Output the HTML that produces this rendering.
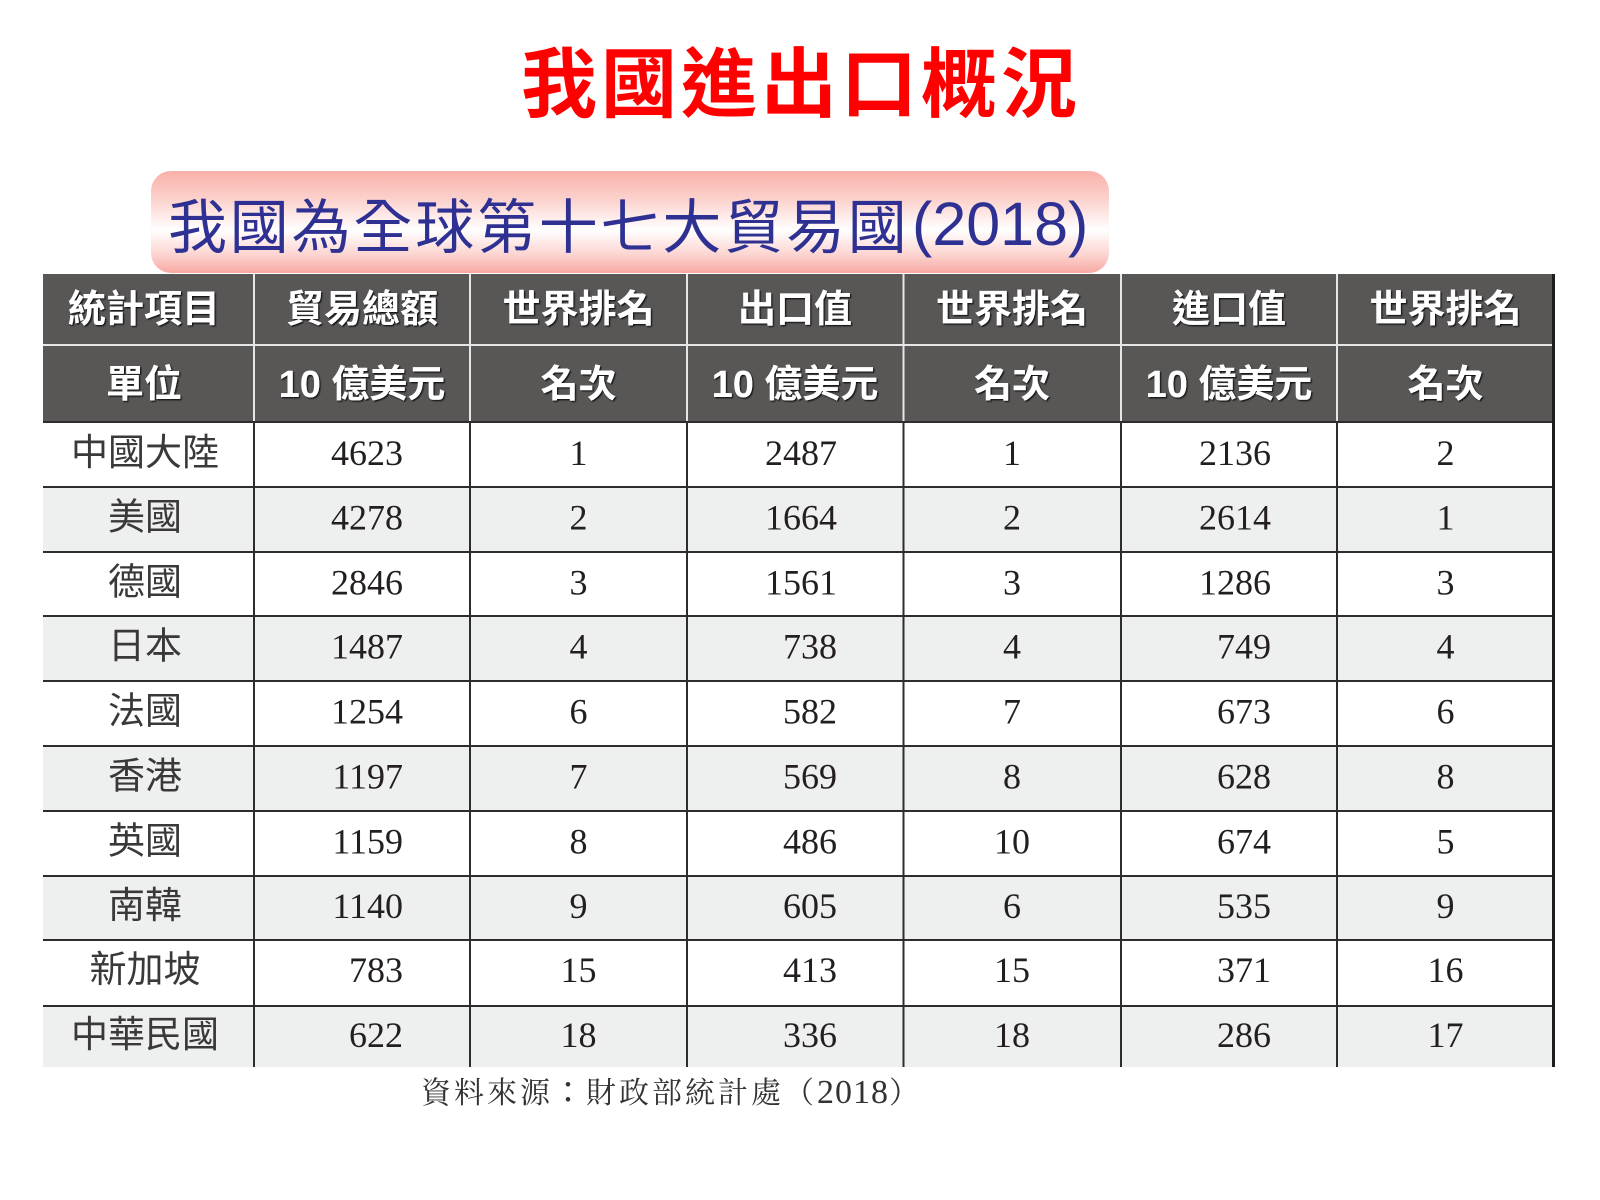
<!DOCTYPE html>
<html>
<head>
<meta charset="utf-8">
<style>
html,body{margin:0;padding:0;background:#fff;}
svg{display:block;}
</style>
</head>
<body>
<svg width="1600" height="1200" viewBox="0 0 1600 1200" xmlns="http://www.w3.org/2000/svg">
<defs>
<linearGradient id="pk" x1="0" y1="0" x2="0" y2="1">
<stop offset="0" stop-color="#f9b0a9"/>
<stop offset="0.28" stop-color="#fcd2cd"/>
<stop offset="0.58" stop-color="#ffffff"/>
<stop offset="0.82" stop-color="#fcd4d0"/>
<stop offset="1" stop-color="#f8a9a4"/>
</linearGradient>
<filter id="sh" x="-5%" y="-20%" width="110%" height="140%">
<feDropShadow dx="1.2" dy="1.2" stdDeviation="0.8" flood-color="#000" flood-opacity="0.85"/>
</filter>
</defs>
<rect width="1600" height="1200" fill="#fff"/>

<!-- Title -->
<text x="801" y="111" text-anchor="middle" font-family="'Liberation Sans','Noto Sans CJK TC',sans-serif" font-weight="bold" font-size="76" letter-spacing="4" fill="#ff0000">我國進出口概況</text>

<!-- Subtitle box -->
<rect x="151" y="171" width="958" height="102" rx="20" ry="20" fill="url(#pk)"/>
<text x="168" y="248" font-family="'Liberation Sans','Noto Sans CJK TC',sans-serif" font-size="59" letter-spacing="2.8" fill="#2e3192">我國為全球第十七大貿易國</text>
<text x="912" y="245" font-family="'Liberation Sans','Noto Sans CJK TC',sans-serif" font-size="61" fill="#2e3192">(2018)</text>

<!-- Header background -->
<rect x="43" y="274" width="1511" height="148" fill="#595656"/>
<!-- header light lines -->
<rect x="43" y="344" width="1511" height="2" fill="#e6e6e6"/>
<g fill="#e6e6e6">
<rect x="253" y="274" width="2" height="148"/>
<rect x="469" y="274" width="2" height="148"/>
<rect x="686" y="274" width="2" height="148"/>
<rect x="902.5" y="274" width="2" height="148"/>
<rect x="1120" y="274" width="2" height="148"/>
<rect x="1336" y="274" width="2" height="148"/>
</g>

<!-- Header text -->
<g font-family="'Liberation Sans','Noto Sans CJK TC',sans-serif" font-weight="bold" font-size="38" fill="#ffffff" text-anchor="middle" filter="url(#sh)">
<text x="144" y="322">統計項目</text>
<text x="362" y="322">貿易總額</text>
<text x="578.5" y="322">世界排名</text>
<text x="795" y="322">出口值</text>
<text x="1012" y="322">世界排名</text>
<text x="1229" y="322">進口值</text>
<text x="1445.5" y="322">世界排名</text>
<text x="144" y="397">單位</text>
<text x="362" y="397">10 億美元</text>
<text x="578.5" y="397">名次</text>
<text x="795" y="397">10 億美元</text>
<text x="1012" y="397">名次</text>
<text x="1229" y="397">10 億美元</text>
<text x="1445.5" y="397">名次</text>
</g>

<!-- Data row backgrounds (gray rows) -->
<g fill="#eeefef">
<rect x="43" y="487" width="1511" height="65"/>
<rect x="43" y="616" width="1511" height="65"/>
<rect x="43" y="746" width="1511" height="65"/>
<rect x="43" y="876" width="1511" height="64"/>
<rect x="43" y="1006" width="1511" height="61"/>
</g>

<!-- Data horizontal lines -->
<g fill="#2e2c2c">
<rect x="43" y="421" width="1511" height="2"/>
<rect x="43" y="486" width="1511" height="2"/>
<rect x="43" y="551" width="1511" height="2"/>
<rect x="43" y="615" width="1511" height="2"/>
<rect x="43" y="680" width="1511" height="2"/>
<rect x="43" y="745" width="1511" height="2"/>
<rect x="43" y="810" width="1511" height="2"/>
<rect x="43" y="875" width="1511" height="2"/>
<rect x="43" y="939" width="1511" height="2"/>
<rect x="43" y="1005" width="1511" height="2"/>
</g>
<!-- Data vertical lines -->
<g fill="#2e2c2c">
<rect x="253" y="422" width="2" height="645"/>
<rect x="469" y="422" width="2" height="645"/>
<rect x="686" y="422" width="2" height="645"/>
<rect x="902.5" y="422" width="2" height="645"/>
<rect x="1120" y="422" width="2" height="645"/>
<rect x="1336" y="422" width="2" height="645"/>
</g>
<!-- right border -->
<rect x="1552" y="274" width="3" height="793" fill="#1e1c1c"/>

<!-- Country names -->
<g font-family="'Liberation Sans','Noto Sans CJK TC',sans-serif" font-size="37" fill="#3a3838" text-anchor="middle">
<text x="145" y="465">中國大陸</text>
<text x="145" y="529.5">美國</text>
<text x="145" y="594.5">德國</text>
<text x="145" y="658.5">日本</text>
<text x="145" y="723.5">法國</text>
<text x="145" y="788.5">香港</text>
<text x="145" y="853.5">英國</text>
<text x="145" y="918">南韓</text>
<text x="145" y="982">新加坡</text>
<text x="145" y="1047">中華民國</text>
</g>

<!-- Values (right aligned) -->
<g font-family="'Liberation Serif','Noto Serif CJK SC',serif" font-size="36" fill="#231f20" text-anchor="end">
<text x="403" y="465">4623</text>
<text x="403" y="529.5">4278</text>
<text x="403" y="594.5">2846</text>
<text x="403" y="658.5">1487</text>
<text x="403" y="723.5">1254</text>
<text x="403" y="788.5">1197</text>
<text x="403" y="853.5">1159</text>
<text x="403" y="918">1140</text>
<text x="403" y="982">783</text>
<text x="403" y="1047">622</text>

<text x="837" y="465">2487</text>
<text x="837" y="529.5">1664</text>
<text x="837" y="594.5">1561</text>
<text x="837" y="658.5">738</text>
<text x="837" y="723.5">582</text>
<text x="837" y="788.5">569</text>
<text x="837" y="853.5">486</text>
<text x="837" y="918">605</text>
<text x="837" y="982">413</text>
<text x="837" y="1047">336</text>

<text x="1271" y="465">2136</text>
<text x="1271" y="529.5">2614</text>
<text x="1271" y="594.5">1286</text>
<text x="1271" y="658.5">749</text>
<text x="1271" y="723.5">673</text>
<text x="1271" y="788.5">628</text>
<text x="1271" y="853.5">674</text>
<text x="1271" y="918">535</text>
<text x="1271" y="982">371</text>
<text x="1271" y="1047">286</text>
</g>

<!-- Rankings (centered) -->
<g font-family="'Liberation Serif','Noto Serif CJK SC',serif" font-size="36" fill="#231f20" text-anchor="middle">
<text x="578.5" y="465">1</text>
<text x="578.5" y="529.5">2</text>
<text x="578.5" y="594.5">3</text>
<text x="578.5" y="658.5">4</text>
<text x="578.5" y="723.5">6</text>
<text x="578.5" y="788.5">7</text>
<text x="578.5" y="853.5">8</text>
<text x="578.5" y="918">9</text>
<text x="578.5" y="982">15</text>
<text x="578.5" y="1047">18</text>

<text x="1012" y="465">1</text>
<text x="1012" y="529.5">2</text>
<text x="1012" y="594.5">3</text>
<text x="1012" y="658.5">4</text>
<text x="1012" y="723.5">7</text>
<text x="1012" y="788.5">8</text>
<text x="1012" y="853.5">10</text>
<text x="1012" y="918">6</text>
<text x="1012" y="982">15</text>
<text x="1012" y="1047">18</text>

<text x="1445.5" y="465">2</text>
<text x="1445.5" y="529.5">1</text>
<text x="1445.5" y="594.5">3</text>
<text x="1445.5" y="658.5">4</text>
<text x="1445.5" y="723.5">6</text>
<text x="1445.5" y="788.5">8</text>
<text x="1445.5" y="853.5">5</text>
<text x="1445.5" y="918">9</text>
<text x="1445.5" y="982">16</text>
<text x="1445.5" y="1047">17</text>
</g>

<!-- Footer source -->
<text x="421" y="1103" font-family="'Liberation Serif','Noto Serif CJK SC',serif" font-size="30" letter-spacing="3" fill="#333333">資料來源<tspan font-family="'Liberation Sans','Noto Sans CJK TC',sans-serif">：</tspan>財政部統計處（<tspan font-size="34" letter-spacing="1">2018</tspan>）</text>
</svg>
</body>
</html>
